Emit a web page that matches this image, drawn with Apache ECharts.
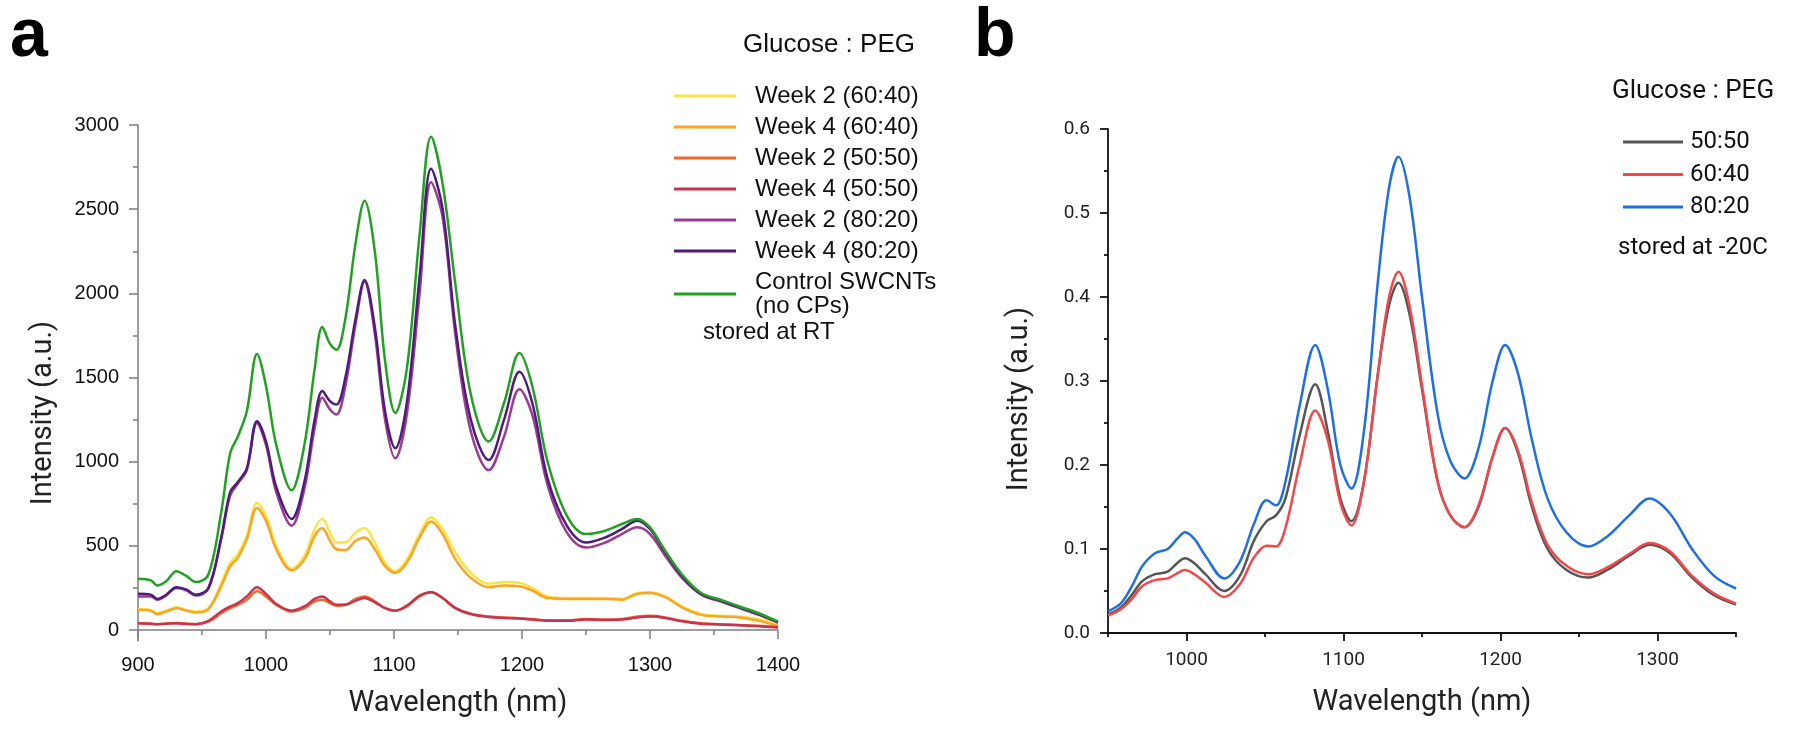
<!DOCTYPE html>
<html><head><meta charset="utf-8">
<script src="https://cdn.jsdelivr.net/npm/echarts@6/dist/echarts.min.js"></script>
<style>html,body{margin:0;padding:0;background:#fff}#c{width:1800px;height:731px}</style>
</head><body><div id="c"></div>
<script>
// ---------- Panel a data (stored at RT) ----------
const wavelengthA = [900,910,915,922,930,938,945,955,965,972,978,985,993,1000,1008,1020,1030,1038,1044,1050,1055,1062,1070,1077,1085,1093,1101,1110,1120,1129,1138,1148,1160,1174,1186,1198,1208,1220,1235,1250,1265,1278,1290,1300,1312,1325,1340,1355,1370,1385,1400];
const week2_6040 = [125,120,100,115,135,120,110,130,280,400,450,560,755,680,500,365,440,600,660,580,520,520,580,605,520,400,350,420,570,670,600,460,340,275,285,280,250,200,190,190,190,185,220,225,200,140,95,85,80,65,30];
const week4_6040 = [120,115,95,110,130,115,105,125,260,380,430,540,725,650,480,355,420,560,605,530,480,475,530,550,480,380,340,400,550,645,570,420,310,255,265,260,235,190,185,185,185,180,215,220,195,135,90,80,75,55,25];
const week2_5050 = [40,38,35,38,42,38,35,50,100,130,150,180,230,200,150,110,130,170,180,160,145,150,185,200,170,130,115,140,200,225,190,130,95,80,75,70,65,58,58,65,62,65,80,85,75,55,40,35,30,25,18];
const week4_5050 = [40,38,35,38,40,36,35,55,110,140,160,200,255,215,155,115,140,185,200,170,150,150,175,190,165,130,115,145,205,225,190,130,95,78,72,68,62,55,55,62,60,62,75,80,72,52,38,33,28,22,15];
const week2_8020 = [200,200,180,205,250,235,205,245,540,800,870,950,1230,1100,820,620,840,1200,1380,1310,1280,1450,1820,2070,1760,1250,1020,1280,2000,2660,2450,1750,1180,950,1150,1430,1280,860,580,490,520,570,610,570,440,310,210,170,130,90,45];
const week4_8020 = [215,210,185,210,255,240,210,250,550,820,880,960,1240,1120,850,660,880,1250,1420,1360,1340,1500,1850,2080,1800,1300,1080,1350,2100,2740,2500,1800,1250,1010,1250,1535,1350,900,620,520,550,600,650,600,460,320,215,175,135,95,45];
const controlSWCNT = [305,295,265,290,350,320,285,330,700,1050,1150,1300,1640,1450,1100,830,1100,1550,1800,1700,1665,1850,2300,2550,2250,1600,1290,1550,2350,2930,2650,2050,1400,1120,1350,1645,1450,1000,680,570,590,630,660,610,470,330,220,180,140,100,50];
const yTicksA = [0,500,1000,1500,2000,2500,3000];
const yMinorA = [250,750,1250,1750,2250,2750];
const namesA = ['Week 2 (60:40)','Week 4 (60:40)','Week 2 (50:50)','Week 4 (50:50)','Week 2 (80:20)','Week 4 (80:20)','Control SWCNTs\n(no CPs)'];

// ---------- Panel b data (stored at -20C) ----------
const wavelengthB = [950,958,965,972,980,988,994,999,1005,1012,1024,1034,1043,1051,1057,1063,1072,1082,1090,1098,1105,1113,1122,1129,1135,1142,1150,1160,1168,1177,1186,1195,1203,1211,1220,1230,1242,1256,1268,1282,1295,1308,1322,1336,1350];
const ratio5050 = [0.022,0.030,0.045,0.062,0.070,0.073,0.083,0.089,0.083,0.070,0.050,0.068,0.110,0.133,0.140,0.160,0.235,0.296,0.240,0.160,0.133,0.180,0.310,0.390,0.417,0.380,0.290,0.180,0.140,0.126,0.150,0.210,0.244,0.215,0.150,0.100,0.075,0.066,0.075,0.092,0.105,0.095,0.066,0.045,0.034];
const ratio6040 = [0.021,0.028,0.040,0.056,0.063,0.065,0.071,0.075,0.070,0.060,0.043,0.058,0.090,0.104,0.103,0.125,0.200,0.265,0.230,0.155,0.128,0.180,0.310,0.400,0.430,0.390,0.295,0.180,0.140,0.126,0.152,0.210,0.244,0.218,0.155,0.105,0.080,0.070,0.078,0.094,0.107,0.097,0.068,0.047,0.035];
const ratio8020 = [0.026,0.035,0.055,0.080,0.095,0.100,0.112,0.120,0.112,0.092,0.065,0.085,0.130,0.158,0.152,0.180,0.270,0.343,0.290,0.200,0.172,0.240,0.420,0.530,0.567,0.520,0.400,0.260,0.205,0.184,0.220,0.300,0.343,0.310,0.230,0.160,0.120,0.103,0.115,0.140,0.160,0.142,0.100,0.068,0.053];
const xTicksB = [1000,1100,1200,1300];
const xMinorB = [950,1050,1150,1250,1350];
const namesB = ['50:50','60:40','80:20'];

const colorsA = ['#f7e64a','#fba522','#ee6a30','#c8334e','#9a3c92','#4d1c7c','#23a023'];
const colorsB = ['#555555','#f2474c','#1f6fe0'];

const pair = (xs, ys) => xs.map((x, i) => [x, ys[i]]);
const seriesA = [week2_6040, week4_6040, week2_5050, week4_5050, week2_8020, week4_8020, controlSWCNT];
const seriesB = [ratio5050, ratio6040, ratio8020];

const arial = 'Liberation Sans, Arial, sans-serif';
const roboto = 'Roboto, Liberation Sans, sans-serif';
const grayAxis = '#7d7d7d';
const plain = v => String(v);

const series = [];
seriesA.forEach((d, i) => series.push({
  name: namesA[i], type: 'line', xAxisIndex: 0, yAxisIndex: 0,
  data: pair(wavelengthA, d), smooth: 0.35, showSymbol: false, symbol: 'none',
  lineStyle: { color: colorsA[i], width: 2.5 }, itemStyle: { color: colorsA[i] }
}));
seriesB.forEach((d, i) => series.push({
  name: namesB[i], type: 'line', xAxisIndex: 1, yAxisIndex: 2,
  data: pair(wavelengthB, d), smooth: 0.35, showSymbol: false, symbol: 'none',
  lineStyle: { color: colorsB[i], width: 2.5 }, itemStyle: { color: colorsB[i] }
}));

const chart = echarts.init(document.getElementById('c'), null, { renderer: 'canvas' });
chart.setOption({
  animation: false,
  backgroundColor: '#ffffff',
  grid: [
    { left: 138, top: 125, width: 640, height: 516 },
    { left: 1108, top: 129, width: 628, height: 504 }
  ],
  xAxis: [
    { gridIndex: 0, type: 'value', min: 900, max: 1400, interval: 100, position: 'bottom',
      axisLine: { show: true, lineStyle: { color: grayAxis, width: 1.5 } },
      axisTick: { show: true, inside: false, length: 9, lineStyle: { color: grayAxis, width: 1.5 } },
      minorTick: { show: true, splitNumber: 2, length: 5, lineStyle: { color: grayAxis, width: 1.5 } },
      axisLabel: { margin: 14, fontSize: 20, fontFamily: arial, color: '#111', formatter: plain },
      splitLine: { show: false },
      name: 'Wavelength (nm)', nameLocation: 'middle', nameGap: 48,
      nameTextStyle: { fontSize: 29, fontFamily: roboto, color: '#222' } },
    { gridIndex: 1, type: 'value', min: 950, max: 1350, position: 'bottom',
      axisLine: { show: true, lineStyle: { color: '#111', width: 1.8 } },
      axisTick: { show: true, inside: false, length: 8, customValues: xTicksB, lineStyle: { color: '#111', width: 1.8 } },
      axisLabel: { margin: 18, fontSize: 19, fontFamily: roboto, color: '#222', customValues: xTicksB, formatter: plain },
      splitLine: { show: false },
      name: 'Wavelength (nm)', nameLocation: 'middle', nameGap: 55,
      nameTextStyle: { fontSize: 29, fontFamily: roboto, color: '#222' } },
    { gridIndex: 1, type: 'value', min: 950, max: 1350, position: 'bottom',
      axisLine: { show: false },
      axisTick: { show: true, inside: false, length: 4, customValues: xMinorB, lineStyle: { color: '#111', width: 1.8 } },
      axisLabel: { show: false },
      splitLine: { show: false } }
  ],
  yAxis: [
    { gridIndex: 0, type: 'value', min: -65, max: 3000, position: 'left',
      axisLine: { show: true, lineStyle: { color: grayAxis, width: 1.5 } },
      axisTick: { show: true, inside: false, length: 9, customValues: yTicksA, lineStyle: { color: grayAxis, width: 1.5 } },
      axisLabel: { margin: 19, fontSize: 20, fontFamily: arial, color: '#111', customValues: yTicksA, formatter: plain },
      splitLine: { show: false },
      name: 'Intensity (a.u.)', nameLocation: 'middle', nameGap: 80,
      nameTextStyle: { fontSize: 29, fontFamily: roboto, color: '#222', padding: [0, 60, 0, 0] } },
    { gridIndex: 0, type: 'value', min: -65, max: 3000, position: 'left',
      axisLine: { show: false },
      axisTick: { show: true, inside: false, length: 5, customValues: yMinorA, lineStyle: { color: grayAxis, width: 1.5 } },
      axisLabel: { show: false },
      splitLine: { show: false } },
    { gridIndex: 1, type: 'value', min: 0, max: 0.6, interval: 0.1, position: 'left',
      axisLine: { show: true, lineStyle: { color: '#111', width: 1.8 } },
      axisTick: { show: true, inside: false, length: 8, lineStyle: { color: '#111', width: 1.8 } },
      minorTick: { show: true, splitNumber: 2, length: 4, lineStyle: { color: '#111', width: 1.8 } },
      axisLabel: { margin: 18, fontSize: 19, fontFamily: roboto, color: '#222', formatter: v => v.toFixed(1) },
      splitLine: { show: false },
      name: 'Intensity (a.u.)', nameLocation: 'middle', nameGap: 74,
      nameTextStyle: { fontSize: 29, fontFamily: roboto, color: '#222', padding: [0, 36, 0, 0] } }
  ],
  legend: [
    { data: namesA, orient: 'vertical', left: 669, top: 79, itemWidth: 62, itemHeight: 3, itemGap: 7,
      icon: 'rect', selectedMode: false,
      textStyle: { fontSize: 24, fontFamily: arial, color: '#111', padding: [0, 0, 0, 14], lineHeight: 24 } },
    { data: namesB, orient: 'vertical', left: 1618, top: 125, itemWidth: 60, itemHeight: 3, itemGap: 8.5,
      icon: 'rect', selectedMode: false,
      textStyle: { fontSize: 24, fontFamily: roboto, color: '#111', padding: [0, 0, 0, 2], lineHeight: 24 } }
  ],
  graphic: [
    { type: 'text', left: 10, top: 3, style: { text: 'a', fontSize: 68, fontWeight: 'bold', fontFamily: arial, fill: '#000' } },
    { type: 'text', left: 974, top: 3, style: { text: 'b', fontSize: 68, fontWeight: 'bold', fontFamily: arial, fill: '#000' } },
    { type: 'text', left: 743, top: 32, style: { text: 'Glucose : PEG', fontSize: 26, fontFamily: arial, fill: '#111' } },
    { type: 'text', left: 703, top: 320, style: { text: 'stored at RT', fontSize: 24, fontFamily: arial, fill: '#111' } },
    { type: 'text', left: 1612, top: 78, style: { text: 'Glucose : PEG', fontSize: 26, fontFamily: roboto, fill: '#111' } },
    { type: 'text', left: 1618, top: 236, style: { text: 'stored at -20C', fontSize: 24, fontFamily: roboto, fill: '#111' } }
  ],
  series: series
});
</script>
</body></html>
